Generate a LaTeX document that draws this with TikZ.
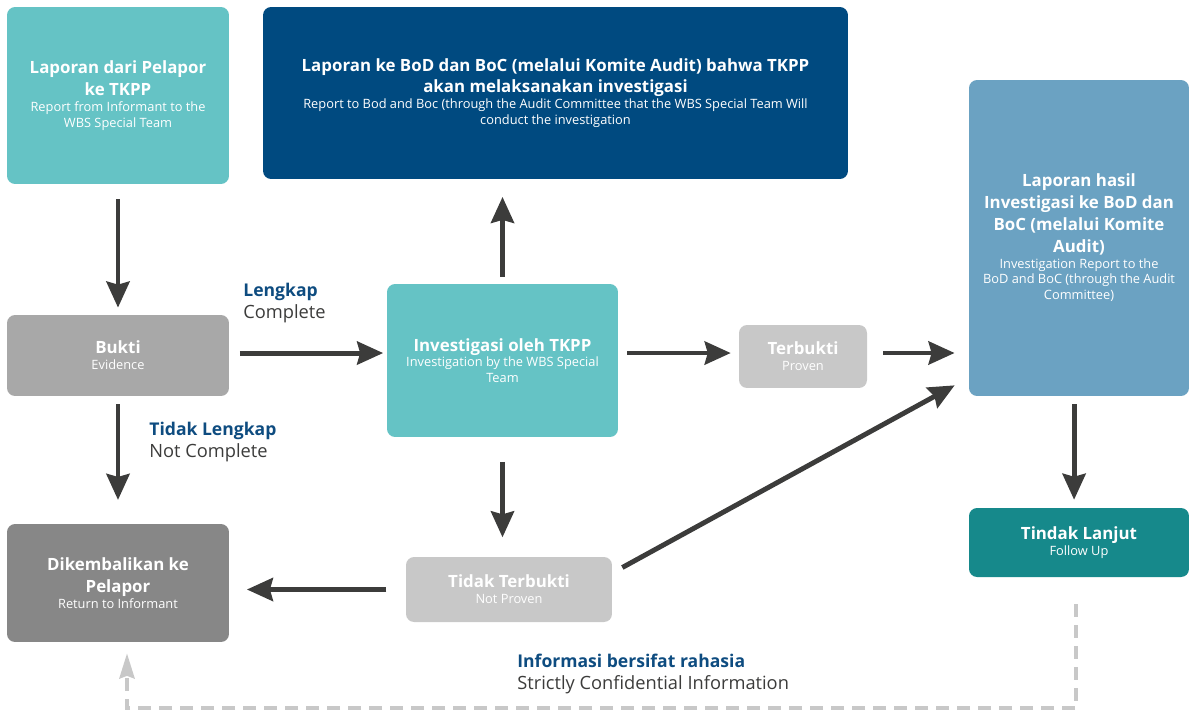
\documentclass[tikz,border=0pt]{standalone}
\usepackage{fontspec}
\setmainfont{Open Sans}
\usepackage{tikz}
\usetikzlibrary{arrows.meta, positioning}

\definecolor{wbsteal}{HTML}{65C3C5}
\definecolor{wbsnavy}{HTML}{004A80}
\definecolor{wbssky}{HTML}{6BA2C2}
\definecolor{wbsgray}{HTML}{A8A8A8}
\definecolor{wbsdark}{HTML}{878787}
\definecolor{wbslight}{HTML}{C8C8C8}
\definecolor{wbsgreen}{HTML}{16898B}
\definecolor{wbsarrow}{HTML}{3C3C3B}
\definecolor{wbslabel}{HTML}{0E4C80}

% title and translation lines inside a box
\newcommand\idtxt[1]{{\fontsize{9.6}{12.4}\selectfont\bfseries #1\par}}
\newcommand\entxt[1]{{\fontsize{7.3}{9}\selectfont #1\par}}

\tikzset{
  box/.style={rounded corners=0.16cm, text=white, align=flush center, inner sep=0pt},
  flow/.style={draw=wbsarrow, line width=2.8pt,
    -{Stealth[length=0.52cm, width=0.46cm, inset=0.06cm]}},
  secret/.style={draw=wbslight, line width=2.3pt, dash pattern=on 0.26cm off 0.16cm,
    -{Stealth[length=0.5cm, width=0.3cm, inset=0.05cm]}},
  lbl/.style={anchor=north west, inner sep=0pt, align=left, text=wbsarrow,
    font=\fontsize{10.4}{12.5}\selectfont}
}

\begin{document}
\begin{tikzpicture}[x=0.02cm, y=-0.02cm]
  \useasboundingbox (0,0) rectangle (1189,713);

  % boxes
  \node[box, fill=wbsteal, minimum width=4.44cm, minimum height=3.54cm, text width=4.2cm]
    (pelapor) at (118,95.5)
    {\idtxt{Laporan dari Pelapor\\ke TKPP}\entxt{Report from Informant to the\\WBS Special Team}};
  \node[box, fill=wbsnavy, minimum width=11.7cm, minimum height=3.44cm, text width=11.4cm]
    (bod) at (555.5,93)
    {\idtxt{Laporan ke BoD dan BoC (melalui Komite Audit) bahwa TKPP\\akan melaksanakan investigasi}%
     \entxt{Report to Bod and Boc (through the Audit Committee that the WBS Special Team Will\\conduct the investigation}};
  \node[box, fill=wbssky, minimum width=4.4cm, minimum height=6.32cm, text width=4.2cm]
    (hasil) at (1079,238)
    {\idtxt{Laporan hasil\\Investigasi ke BoD dan\\BoC (melalui Komite\\Audit)}%
     \entxt{Investigation Report to the\\BoD and BoC (through the Audit\\Committee)}};
  \node[box, fill=wbsgray, minimum width=4.44cm, minimum height=1.62cm, text width=4.2cm]
    (bukti) at (118,355.5)
    {\idtxt{Bukti}\entxt{Evidence}};
  \node[box, fill=wbsteal, minimum width=4.62cm, minimum height=3.06cm, text width=4.4cm]
    (investigasi) at (502.5,360.5)
    {\idtxt{Investigasi oleh TKPP}\entxt{Investigation by the WBS Special\\Team}};
  \node[box, fill=wbslight, minimum width=2.56cm, minimum height=1.26cm, text width=2.4cm]
    (terbukti) at (803,356.5)
    {\idtxt{Terbukti}\entxt{Proven}};
  \node[box, fill=wbsgreen, minimum width=4.4cm, minimum height=1.38cm, text width=4.2cm]
    (lanjut) at (1079,542.5)
    {\idtxt{Tindak Lanjut}\entxt{Follow Up}};
  \node[box, fill=wbsdark, minimum width=4.44cm, minimum height=2.36cm, text width=4.2cm]
    (kembali) at (118,583)
    {\idtxt{Dikembalikan ke\\Pelapor}\entxt{Return to Informant}};
  \node[box, fill=wbslight, minimum width=4.12cm, minimum height=1.3cm, text width=3.9cm]
    (tdkterbukti) at (509,589.5)
    {\idtxt{Tidak Terbukti}\entxt{Not Proven}};

  % labels on the branches
  \node[lbl] (lengkap) at (243,283) {{\color{wbslabel}\bfseries\fontsize{10}{12.5}\selectfont Lengkap}\\Complete};
  \node[lbl] (tdklengkap) at (149,422) {{\color{wbslabel}\bfseries\fontsize{10}{12.5}\selectfont Tidak Lengkap}\\Not Complete};
  \node[lbl] (rahasia) at (517,654) {{\color{wbslabel}\bfseries\fontsize{10}{12.5}\selectfont Informasi bersifat rahasia}\\Strictly Confidential Information};

  % arrows
  \draw[flow, shorten <=8.5pt, shorten >=4pt] (pelapor) -- (bukti);
  \draw[flow, shorten <=6pt, shorten >=2pt] ([yshift=1.4pt]bukti.east) -- ([yshift=1.4pt]bukti.east -| investigasi.west);
  \draw[flow, shorten <=4.5pt, shorten >=13.5pt] (bukti) -- (kembali);
  \draw[flow, shorten <=4pt, shorten >=10pt] (investigasi.north) -- (investigasi.north |- bod.south);
  \draw[flow, shorten <=5pt, shorten >=4.5pt] ([yshift=4.25pt]investigasi.east) -- ([yshift=4.25pt]investigasi.east -| terbukti.west);
  \draw[flow, shorten <=14pt, shorten >=11pt] (investigasi.south) -- (investigasi.south |- tdkterbukti.north);
  \draw[flow, shorten <=11pt, shorten >=10pt] (tdkterbukti.west) -- (tdkterbukti.west -| kembali.east);
  \draw[flow, shorten <=9pt, shorten >=8pt] ([yshift=2pt]terbukti.east) -- ([yshift=2pt]terbukti.east -| hasil.west);
  \draw[flow] ([shift={(10,-22)}]tdkterbukti.east) -- ([shift={(-14,-11)}]hasil.south west);
  \draw[flow, shorten <=4.5pt, shorten >=4.5pt] ([xshift=-2.8pt]hasil.south) -- ([xshift=-2.8pt]lanjut.north);

  % confidential return path
  \draw[secret] ([shift={(-3,27)}]lanjut.south) -- ++(0,104) -| ([shift={(9,11)}]kembali.south);
\end{tikzpicture}
\end{document}
